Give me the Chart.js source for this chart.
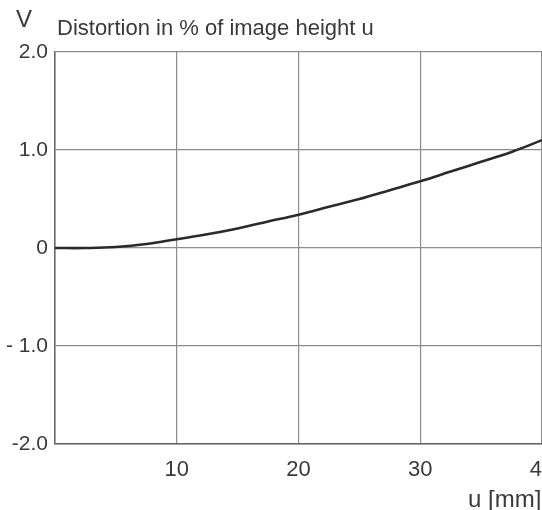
<!DOCTYPE html>
<html>
<head>
<meta charset="utf-8">
<script src="https://cdn.jsdelivr.net/npm/chart.js@4"></script>
<style>
  html, body { margin: 0; padding: 0; background: #fff; overflow: hidden; }
  #wrap { width: 600px; height: 510px; }
</style>
</head>
<body>
<div id="wrap"><canvas id="distChart" width="600" height="510"></canvas></div>
<script>
// image height u in mm
const uValues = [0, 2.5, 5, 7.5, 10, 12.5, 15, 17.5, 20, 22.5, 25, 27.5, 30, 32.5, 35, 37.5, 40];
// distortion V in %
const distortion = [0, 0, 0.01, 0.04, 0.09, 0.14, 0.2, 0.27, 0.34, 0.42, 0.5, 0.59, 0.68, 0.78, 0.88, 0.98, 1.1];
const xTicks = [10, 20, 30, 40];
const yTicks = [2, 1, 0, -1, -2];
const yTickLabels = ["2.0", "1.0", "0", "- 1.0", "-2.0"];

const textColor = "#3a3a3a";
const fontName = "'Liberation Sans', Arial, sans-serif";

const labelsPlugin = {
  id: "labels",
  afterDraw(chart) {
    const ctx = chart.ctx;
    ctx.save();
    ctx.fillStyle = textColor;
    ctx.textBaseline = "alphabetic";
    ctx.textAlign = "left";
    ctx.font = "24px " + fontName;
    ctx.fillText("V", 16, 27);
    ctx.font = "22px " + fontName;
    ctx.fillText("Distortion in % of image height u", 57, 35);
    ctx.font = "24px " + fontName;
    ctx.fillText("u [mm]", 468, 507);
    ctx.restore();
  },
};

const distChart = new Chart(document.getElementById("distChart"), {
  type: "line",
  data: {
    datasets: [
      {
        data: uValues.map((u, i) => ({ x: u, y: distortion[i] })),
        borderColor: "#2a2a2a",
        borderWidth: 2.6,
        pointRadius: 0,
        tension: 0.4,
        fill: false,
      },
    ],
  },
  options: {
    responsive: false,
    animation: false,
    layout: { padding: { top: 52, right: 58, left: 0, bottom: 0 } },
    plugins: { legend: { display: false }, tooltip: { enabled: false } },
    scales: {
      x: {
        type: "linear",
        min: 0,
        max: 40,
        afterBuildTicks(axis) {
          axis.ticks = [0].concat(xTicks).map((v) => ({ value: v }));
        },
        afterFit(axis) {
          axis.height = 66;
        },
        ticks: {
          padding: 13,
          color: textColor,
          font: { size: 22, family: fontName },
          maxRotation: 0,
          callback: (v) => (v === 0 ? "" : String(v)),
        },
        grid: { color: "#8c8c8c", lineWidth: 1.2, drawTicks: false },
        border: { color: "#666", width: 1.5 },
      },
      y: {
        min: -2,
        max: 2,
        afterBuildTicks(axis) {
          axis.ticks = yTicks.map((v) => ({ value: v }));
        },
        afterFit(axis) {
          axis.width = 55;
        },
        ticks: {
          padding: 7,
          color: textColor,
          font: { size: 21, family: fontName },
          callback: (v) => yTickLabels[yTicks.indexOf(v)],
        },
        grid: { color: "#8c8c8c", lineWidth: 1.2, drawTicks: false },
        border: { color: "#666", width: 1.5 },
      },
    },
  },
  plugins: [labelsPlugin],
});
</script>
</body>
</html>
